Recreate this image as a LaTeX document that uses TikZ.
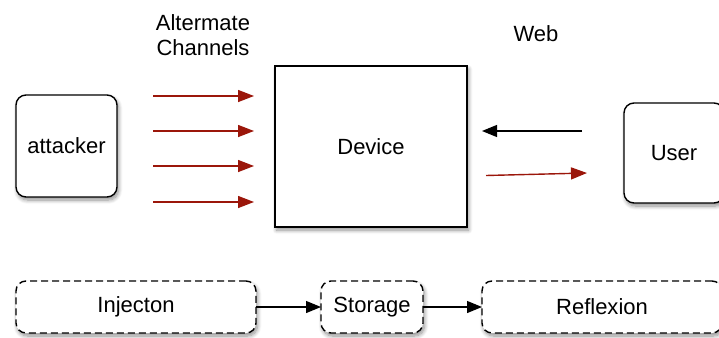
\documentclass[tikz,border=0pt]{standalone}
\usepackage{fontspec}
\setmainfont{Liberation Sans}
\usetikzlibrary{arrows.meta,shadows.blur}

\definecolor{chanred}{RGB}{155,22,10}

\tikzset{
  box/.style={draw, fill=white, inner sep=0pt, outer sep=0pt, line width=1.4pt,
    blur shadow={shadow xshift=1.5pt, shadow yshift=-3pt, shadow blur radius=4pt,
      shadow blur steps=8, shadow opacity=45}},
  softbox/.style={box, rounded corners=10pt},
  stagebox/.style={box, rounded corners=10pt, dash pattern=on 7pt off 4pt,
    minimum height=52pt},
  chan/.style={draw=chanred, line width=1.4pt, -{Triangle[length=16pt,width=12pt]}, color=chanred},
  flow/.style={line width=1.2pt, -{Triangle[length=15pt,width=12pt]}}
}

\begin{document}
\begin{tikzpicture}[x=1pt, y=-1pt, font=\fontsize{22}{25}\selectfont]
    \useasboundingbox (0,0) rectangle (719,337);

    \node[softbox, minimum width=101pt, minimum height=102pt] (attacker) at (66.5,146) {attacker};
    \node[box, minimum width=192pt, minimum height=161pt] (device) at (371,146.5) {Device};
    \node[softbox, minimum width=100pt, minimum height=100pt] (user) at (674,153) {User};

    \node[align=center] (alt) at (203,35) {Altermate\\Channels};
    \node (web) at (536,34) {Web};

    % alternate channels
    \foreach \y [count=\i] in {96,131,166,202} {
      \coordinate (ch\i s) at (153,\y);
      \coordinate (ch\i e) at (254,\y);
      \draw[chan] (ch\i s) -- (ch\i e);
    }

    % web traffic
    \coordinate (req s) at (582,131);
    \coordinate (req e) at (482,131);
    \coordinate (rsp s) at (486,175.5);
    \coordinate (rsp e) at (587,173);
    \draw[flow] (req s) -- (req e);
    \draw[chan] (rsp s) -- (rsp e);

    % stages
    \node[stagebox, minimum width=240pt] (inj) at (136,307) {Injecton};
    \node[stagebox, minimum width=102pt] (sto) at (372,307) {Storage};
    \node[stagebox, minimum width=240pt] (ref) at (602,307) {Reflexion};

    \draw[flow] (inj.east) -- (sto.west);
    \draw[flow] (sto.east) -- (ref.west);
  \end{tikzpicture}
\end{document}
